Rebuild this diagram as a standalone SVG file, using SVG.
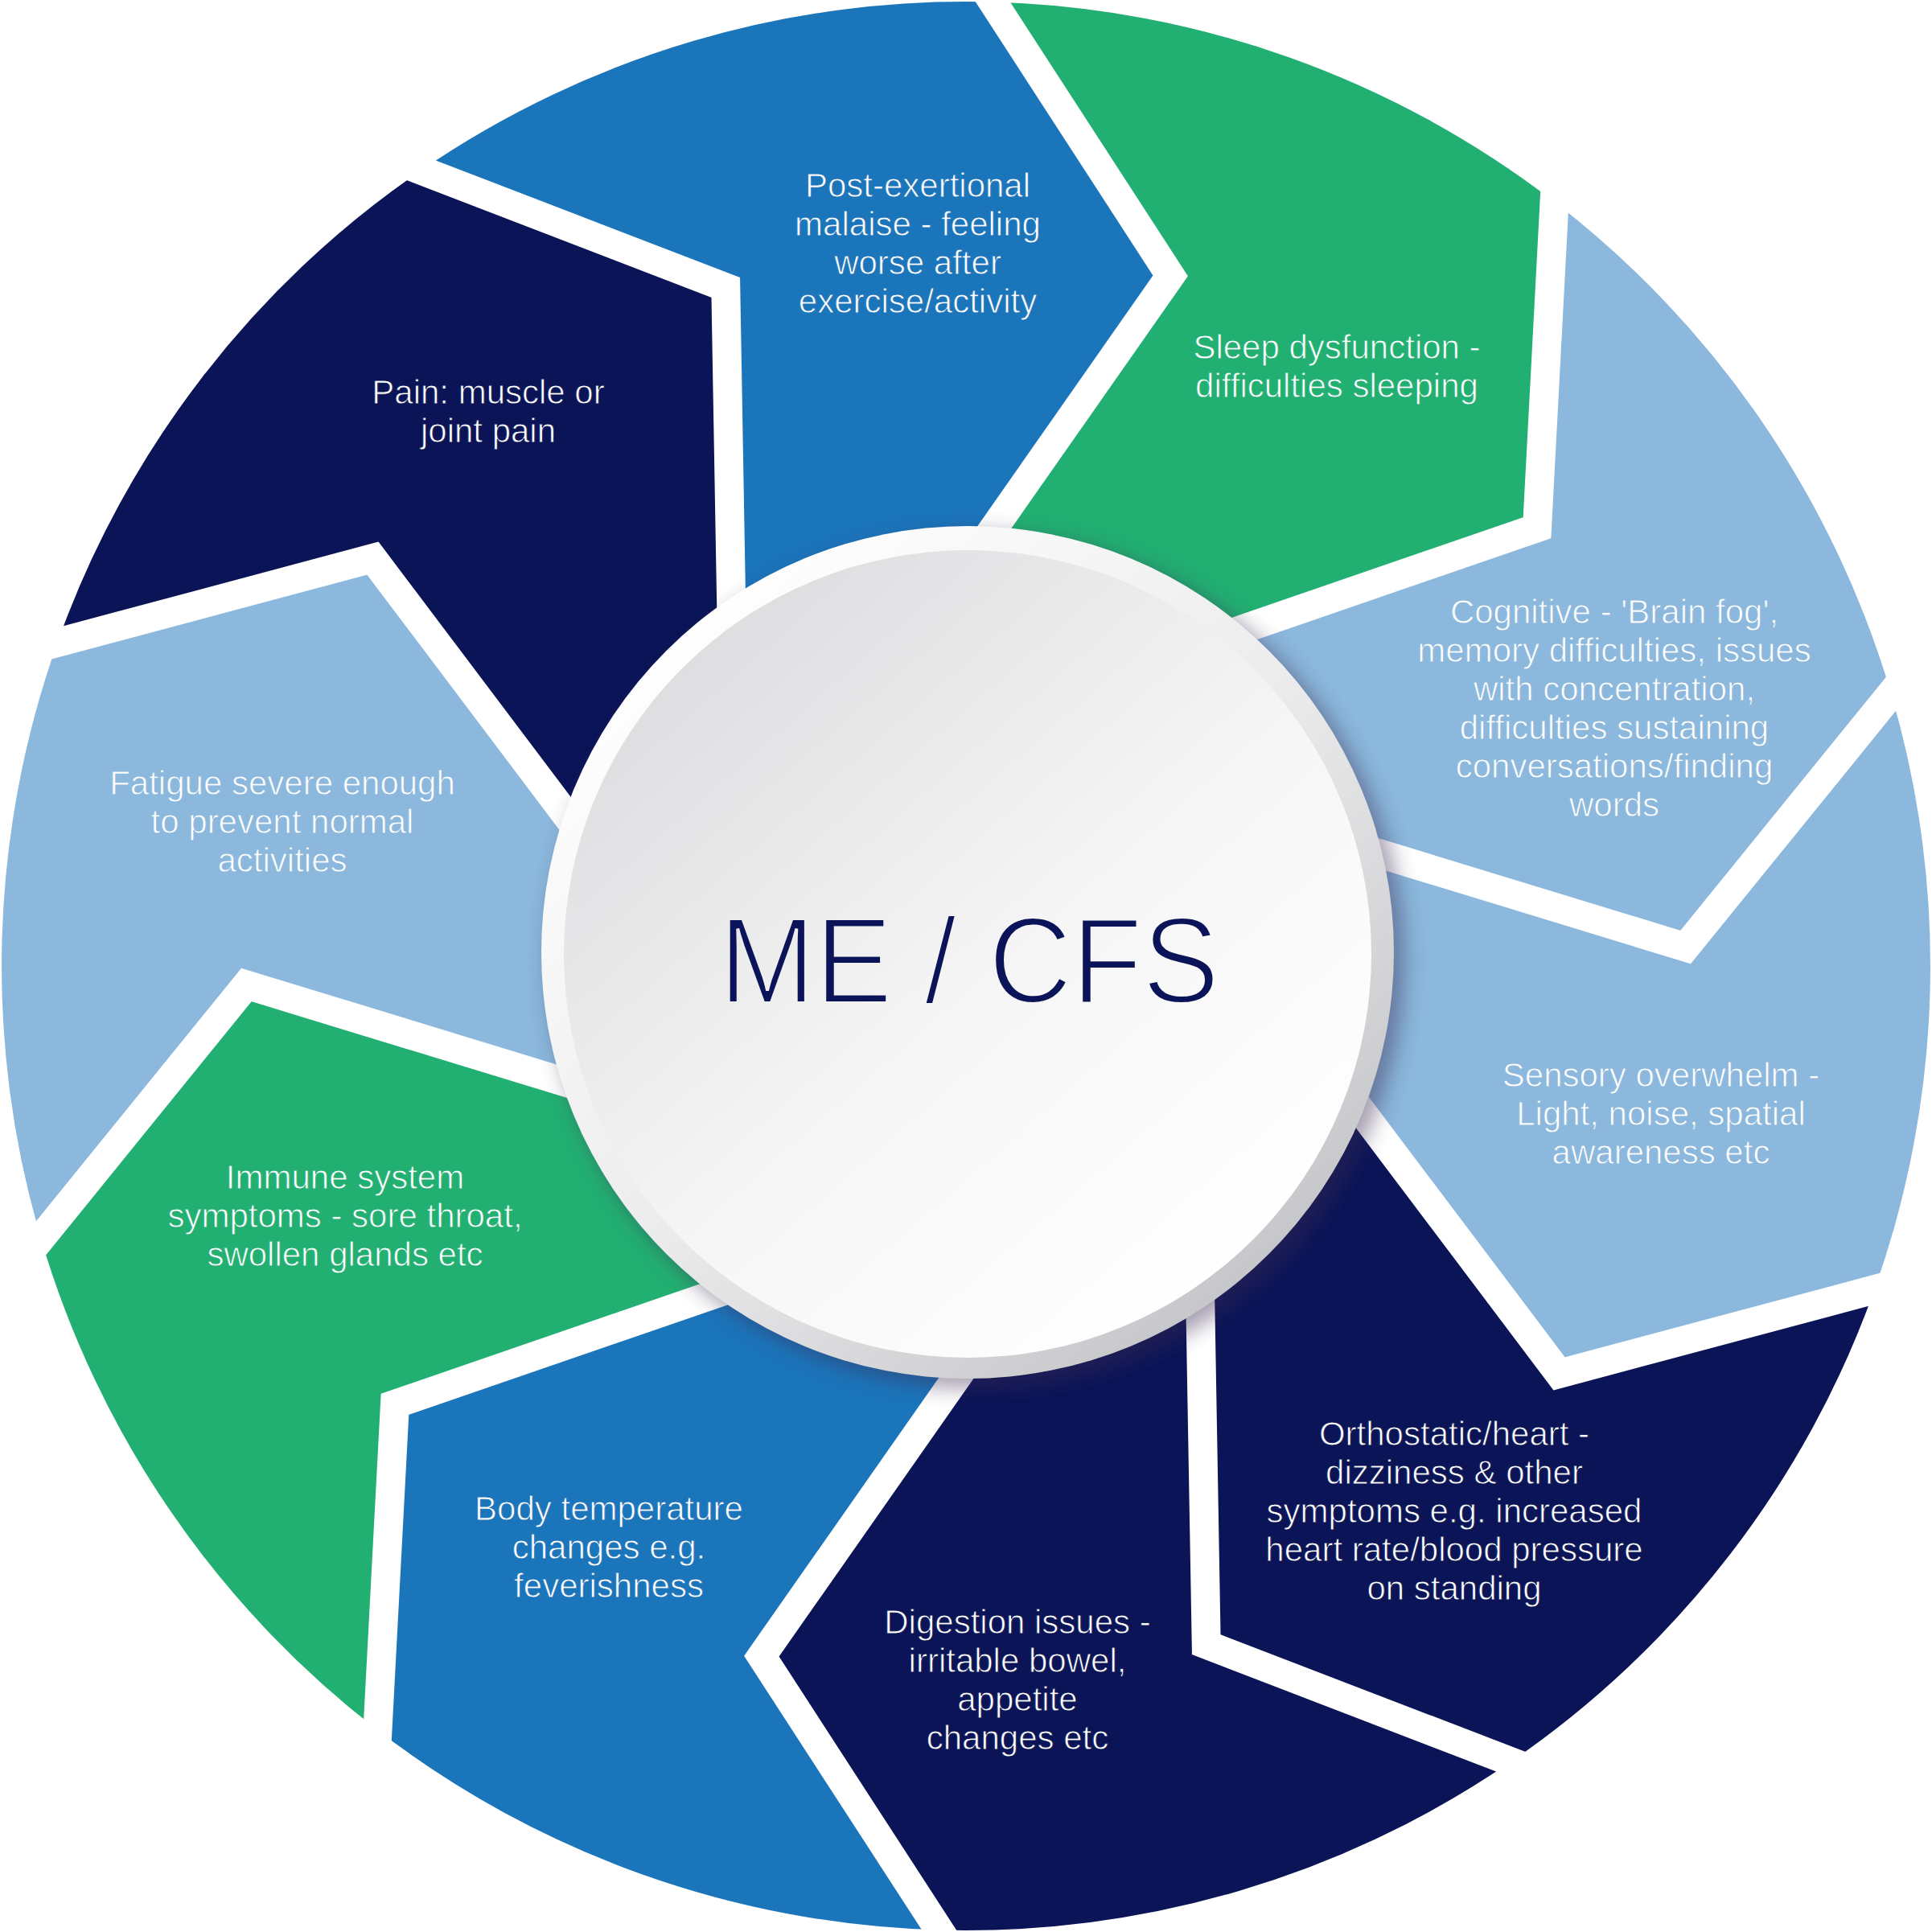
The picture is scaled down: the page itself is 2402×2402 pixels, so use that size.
<svg xmlns="http://www.w3.org/2000/svg" xmlns:xlink="http://www.w3.org/1999/xlink" width="2402" height="2402" viewBox="0 0 2402 2402">
<style>
.lbl { font-family: "Liberation Sans", Arial, sans-serif; font-size: 42px; fill: #ffffff; text-anchor: middle; stroke-width: 0.9px; }
.title { font-family: "Liberation Sans", Arial, sans-serif; font-size: 152px; fill: #0b1459; text-anchor: middle; stroke: url(#faceGradU); stroke-width: 4px; }
.gap { fill: none; stroke: #ffffff; stroke-width: 36; stroke-linejoin: miter; stroke-miterlimit: 10; }
.navy { fill: #0a1457; }
.blue { fill: #1b75bb; }
.green { fill: #22b072; }
.light { fill: #8bb8dc; }
.on-navy { stroke: #0a1457; }
.on-blue { stroke: #1b75bb; }
.on-green { stroke: #22b072; }
.on-light { stroke: #8bb8dc; }
</style>
<defs>
  <path id="seg" d="M1234.5,2.5 A1199,1199 0 0 1 1932.6,251.1 L1911.0,656.2 L1439.5,818.6 L1201,1201 L1169.2,751.4 L1455.2,342.9 Z"/>
  <polyline id="gapline" points="1212.4,-31.5 1455.2,342.9 1169.2,751.4"/>
  <linearGradient id="rimGrad" x1="0.15" y1="0.1" x2="0.85" y2="0.9">
    <stop offset="0" stop-color="#ffffff"/>
    <stop offset="0.5" stop-color="#ececed"/>
    <stop offset="1" stop-color="#c4c5c8"/>
  </linearGradient>
  <linearGradient id="faceGradU" gradientUnits="userSpaceOnUse" x1="851.6" y1="784.4" x2="1554.4" y2="1587.6">
    <stop offset="0" stop-color="#dcdddf"/>
    <stop offset="0.55" stop-color="#f6f6f6"/>
    <stop offset="1" stop-color="#ffffff"/>
  </linearGradient>
  <filter id="shadow" x="-20%" y="-20%" width="140%" height="140%">
    <feGaussianBlur stdDeviation="13"/>
  </filter>
</defs>

<g id="node-sleep">
  <use xlink:href="#seg" class="green" transform="rotate(0 1201 1201)"/>
  <text class="lbl on-green" x="1662" y="446"><tspan x="1662">Sleep dysfunction -</tspan><tspan x="1662" dy="48">difficulties sleeping</tspan></text>
</g>
<g id="node-cognitive">
  <use xlink:href="#seg" class="light" transform="rotate(36 1201 1201)"/>
  <text class="lbl on-light" x="2007" y="775"><tspan x="2007">Cognitive - 'Brain fog',</tspan><tspan x="2007" dy="48">memory difficulties, issues</tspan><tspan x="2007" dy="48">with concentration,</tspan><tspan x="2007" dy="48">difficulties sustaining</tspan><tspan x="2007" dy="48">conversations/finding</tspan><tspan x="2007" dy="48">words</tspan></text>
</g>
<g id="node-sensory">
  <use xlink:href="#seg" class="light" transform="rotate(72 1201 1201)"/>
  <text class="lbl on-light" x="2065" y="1351"><tspan x="2065">Sensory overwhelm -</tspan><tspan x="2065" dy="48">Light, noise, spatial</tspan><tspan x="2065" dy="48">awareness etc</tspan></text>
</g>
<g id="node-orthostatic">
  <use xlink:href="#seg" class="navy" transform="rotate(108 1201 1201)"/>
  <text class="lbl on-navy" x="1808" y="1797"><tspan x="1808">Orthostatic/heart -</tspan><tspan x="1808" dy="48">dizziness &amp; other</tspan><tspan x="1808" dy="48">symptoms e.g. increased</tspan><tspan x="1808" dy="48">heart rate/blood pressure</tspan><tspan x="1808" dy="48">on standing</tspan></text>
</g>
<g id="node-digestion">
  <use xlink:href="#seg" class="navy" transform="rotate(144 1201 1201)"/>
  <text class="lbl on-navy" x="1265" y="2031"><tspan x="1265">Digestion issues -</tspan><tspan x="1265" dy="48">irritable bowel,</tspan><tspan x="1265" dy="48">appetite</tspan><tspan x="1265" dy="48">changes etc</tspan></text>
</g>
<g id="node-temperature">
  <use xlink:href="#seg" class="blue" transform="rotate(180 1201 1201)"/>
  <text class="lbl on-blue" x="757" y="1890"><tspan x="757">Body temperature</tspan><tspan x="757" dy="48">changes e.g.</tspan><tspan x="757" dy="48">feverishness</tspan></text>
</g>
<g id="node-immune">
  <use xlink:href="#seg" class="green" transform="rotate(216 1201 1201)"/>
  <text class="lbl on-green" x="429" y="1478"><tspan x="429">Immune system</tspan><tspan x="429" dy="48">symptoms - sore throat,</tspan><tspan x="429" dy="48">swollen glands etc</tspan></text>
</g>
<g id="node-fatigue">
  <use xlink:href="#seg" class="light" transform="rotate(252 1201 1201)"/>
  <text class="lbl on-light" x="351" y="988"><tspan x="351">Fatigue severe enough</tspan><tspan x="351" dy="48">to prevent normal</tspan><tspan x="351" dy="48">activities</tspan></text>
</g>
<g id="node-pain">
  <use xlink:href="#seg" class="navy" transform="rotate(288 1201 1201)"/>
  <text class="lbl on-navy" x="607" y="502"><tspan x="607">Pain: muscle or</tspan><tspan x="607" dy="48">joint pain</tspan></text>
</g>
<g id="node-pem">
  <use xlink:href="#seg" class="blue" transform="rotate(324 1201 1201)"/>
  <text class="lbl on-blue" x="1141" y="245"><tspan x="1141">Post-exertional</tspan><tspan x="1141" dy="48">malaise - feeling</tspan><tspan x="1141" dy="48">worse after</tspan><tspan x="1141" dy="48">exercise/activity</tspan></text>
</g>

<g id="gaps">
  <use xlink:href="#gapline" class="gap" transform="rotate(0 1201 1201)"/>
  <use xlink:href="#gapline" class="gap" transform="rotate(36 1201 1201)"/>
  <use xlink:href="#gapline" class="gap" transform="rotate(72 1201 1201)"/>
  <use xlink:href="#gapline" class="gap" transform="rotate(108 1201 1201)"/>
  <use xlink:href="#gapline" class="gap" transform="rotate(144 1201 1201)"/>
  <use xlink:href="#gapline" class="gap" transform="rotate(180 1201 1201)"/>
  <use xlink:href="#gapline" class="gap" transform="rotate(216 1201 1201)"/>
  <use xlink:href="#gapline" class="gap" transform="rotate(252 1201 1201)"/>
  <use xlink:href="#gapline" class="gap" transform="rotate(288 1201 1201)"/>
  <use xlink:href="#gapline" class="gap" transform="rotate(324 1201 1201)"/>
</g>

<g id="node-center">
  <circle cx="1214" cy="1194" r="532" fill="#3a2c52" opacity="0.45" filter="url(#shadow)"/>
  <circle cx="1203" cy="1184" r="530" fill="url(#rimGrad)"/>
  <circle cx="1203" cy="1186" r="502" fill="url(#faceGradU)"/>
  <text class="title" x="1205" y="1247" textLength="622" lengthAdjust="spacingAndGlyphs">ME / CFS</text>
</g>
</svg>
